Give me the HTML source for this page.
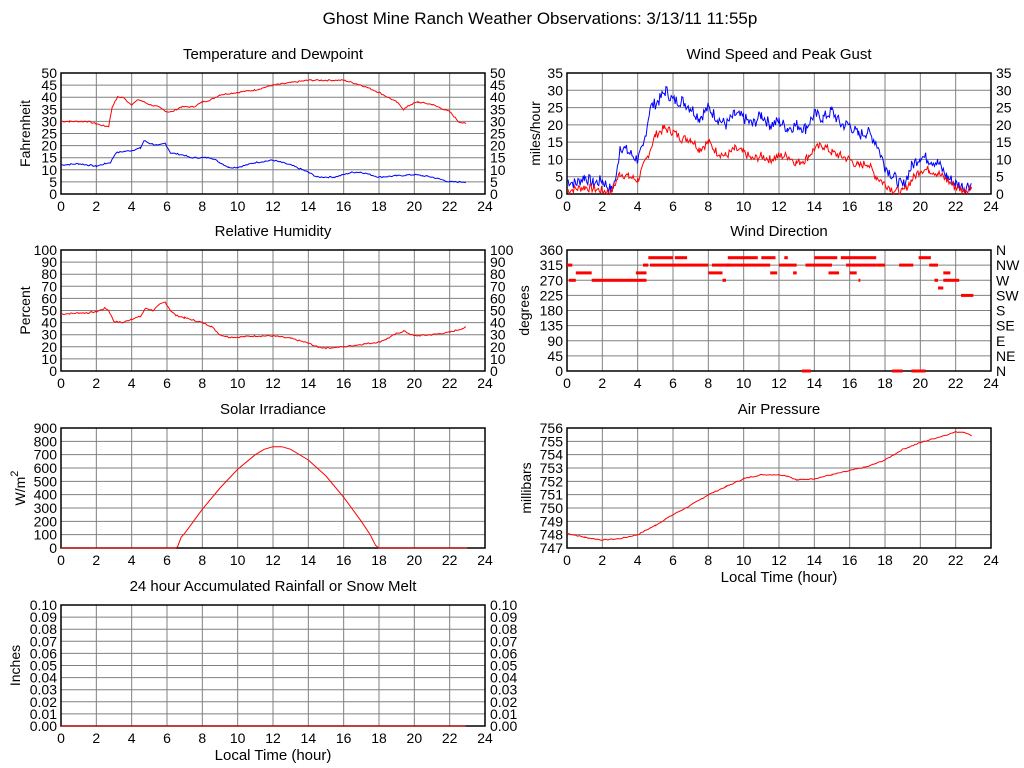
<!DOCTYPE html>
<html><head><meta charset="utf-8"><style>
html,body{margin:0;padding:0;background:#fff;width:1024px;height:768px;overflow:hidden}
svg{display:block}
text{font-family:"Liberation Sans",sans-serif;fill:#000}
</style></head><body>
<svg id="s" width="1024" height="768" xmlns="http://www.w3.org/2000/svg"></svg>
<script>
var S=document.getElementById('s'),o='';
o+='<rect width="1024" height="768" fill="#fff"/>';
o+='<text x="540" y="24" font-size="17" text-anchor="middle">Ghost Mine Ranch Weather Observations: 3/13/11 11:55p</text>';
function plot(p){
 var L=p.x,T=p.y,R=p.x+424,B=p.y+p.h,w=424,h=p.h;
 o+='<text x="'+(L+212)+'" y="'+(T-14)+'" font-size="15" text-anchor="middle">'+p.title+'</text>';
 for(var i=1;i<12;i++){var x=L+w*i/12;o+='<line x1="'+x+'" y1="'+T+'" x2="'+x+'" y2="'+B+'" stroke="#808080"/>';}
 for(var j=1;j<p.n;j++){var y=T+h*j/p.n;o+='<line x1="'+L+'" y1="'+y+'" x2="'+R+'" y2="'+y+'" stroke="#808080"/>';}
 o+='<rect x="'+L+'" y="'+T+'" width="'+w+'" height="'+h+'" fill="none" stroke="#000" stroke-width="1.5"/>';
 for(var i=0;i<=12;i++){o+='<text x="'+(L+w*i/12)+'" y="'+(B+17)+'" font-size="14" text-anchor="middle">'+(2*i)+'</text>';}
 for(var j=0;j<=p.n;j++){var y=B-h*j/p.n+5;var lb=p.lab(j);
  o+='<text x="'+(L-4)+'" y="'+y+'" font-size="14" text-anchor="end">'+lb+'</text>';
  var rl=p.rl?p.rl(j):(p.right?lb:null); if(rl!==null)o+='<text x="'+(R+5)+'" y="'+y+'" font-size="14">'+rl+'</text>';}
 o+='<text transform="translate('+(L-p.yo)+','+(T+h/2)+') rotate(-90)" font-size="14" text-anchor="middle">'+p.yl+'</text>';
 if(p.xl)o+='<text x="'+(L+212)+'" y="'+(B+34)+'" font-size="15" text-anchor="middle">'+p.xl+'</text>';
 var mp=function(hh,v){return [(L+w*hh/24).toFixed(1),(B-h*(v-p.min)/(p.max-p.min)).toFixed(1)];};
 (p.series||[]).forEach(function(s){
  var pts=[];for(var k=0;k<s.d.length;k+=2)pts.push(mp(s.d[k],s.d[k+1]).join(','));
  o+='<polyline points="'+pts.join(' ')+'" fill="none" stroke="'+s.c+'" stroke-width="1"/>';});
 (p.segs||[]).forEach(function(g){var a=mp(g[0],g[2]),b=mp(g[1],g[2]);
  o+='<rect x="'+a[0]+'" y="'+(a[1]-1.5)+'" width="'+(b[0]-a[0])+'" height="3" fill="#f00"/>';});
}
function noisy(d,amp,step){var r=[];var seed=7;function rnd(){seed=(seed*9301+49297)%233280;return seed/233280-0.5;}
 for(var k=0;k<d.length-2;k+=2){var h0=d[k],v0=d[k+1],h1=d[k+2],v1=d[k+3];
  for(var t=h0;t<h1;t+=step){var v=v0+(v1-v0)*(t-h0)/(h1-h0)+rnd()*amp;r.push(t,Math.max(0,v));}}
 r.push(d[d.length-2],d[d.length-1]);return r;}
var dir=['N','NE','E','SE','S','SW','W','NW','N'];
plot({x:61,y:73,h:121,n:10,min:0,max:50,yo:31,title:'Temperature and Dewpoint',yl:'Fahrenheit',right:1,lab:function(j){return j*5},
 series:[{c:'#f00',d:noisy([0,30,0.5,30,1,30,1.5,30,2,29,2.5,28,2.7,28,2.9,36,3.2,40,3.5,40,3.8,38,4,37,4.4,39,4.7,38,5,37,5.5,36,6,34,6.3,34,6.8,36,7.5,36,8,38,8.5,39,9,41,10,42,11,43,12,45,13,46,14,47,15,47,16,47,17,45,18,42,19,38,19.4,35,19.8,37,20.2,38,21,37,22,34,22.5,30,22.9,29],0.6,0.08)},
 {c:'#00f',d:noisy([0,12,1,12.5,1.5,12,2,11.5,2.5,12.5,2.8,13,3.1,17,3.5,17.5,4,18,4.5,19,4.7,22,5,21,5.5,20,5.9,21,6.2,17,7,16,7.3,15,8,15,8.5,15,9,13,9.5,11,10,11,11,13,12,14,12.5,13,13,12,14,9,14.5,7,15.5,7,16.5,9,17,9,18,7,19,7.5,20,8,21,7,22,5,22.9,5],0.6,0.08)}]});
plot({x:567,y:73,h:121,n:7,min:0,max:35,yo:27,title:'Wind Speed and Peak Gust',yl:'miles/hour',right:1,lab:function(j){return j*5},
 series:[{c:'#00f',d:noisy([0,4,0.5,3,1,5,1.5,3,2,4,2.5,1,2.8,5,3,14,3.5,12,4,10,4.3,13,4.7,25,5.2,27,5.6,30,6,27,6.5,27,7,25,7.5,22,8,25,8.5,22,9,20,9.5,23,10,22,10.5,20,11,23,11.5,20,12,21,12.5,19,13,20,13.5,19,14,23,14.5,22,15,24,15.5,20,16,20,16.5,17,17,18,17.5,15,18,8,18.5,5,19,2,19.5,8,20,11,20.5,10,21,9,21.5,5,22,3,22.5,2,22.9,3],3.5,0.06)},
 {c:'#f00',d:noisy([0,1,1,2,2,1,2.5,0.5,3,6,3.5,5,4,4,4.5,10,5,17,5.5,19,6,18,6.5,16,7,16,7.5,13,8,15,8.5,12,9,11,9.5,13,10,12,10.5,10,11,11,11.5,10,12,11,12.5,11,13,9,13.5,10,14,13,14.5,14,15,12,15.5,11,16,10,16.5,8,17,9,17.5,5,18,3,18.5,1,19,0.5,19.5,4,20,7,20.5,7,21,6,21.5,4,22,2,22.5,1,22.9,2],2.5,0.06)}]});
plot({x:61,y:250,h:121,n:10,min:0,max:100,yo:31,title:'Relative Humidity',yl:'Percent',right:1,lab:function(j){return j*10},
 series:[{c:'#f00',d:noisy([0,47,1,48,1.5,48,2,49,2.5,52,2.7,50,3,41,3.5,40,4,43,4.5,45,4.8,52,5.2,50,5.6,55,5.9,57,6.2,50,6.5,46,7,44,7.5,42,8,40,8.5,37,9,30,9.5,28,10,28,11,29,12,29,13,27,14,23,14.5,20,15,19,16,20,17,22,18,24,18.5,27,19,31,19.4,33,20,29,21,30,22,32,22.9,36],1.2,0.08)}]});
plot({x:567,y:250,h:121,n:8,min:0,max:360,yo:38,title:'Wind Direction',yl:'degrees',lab:function(j){return j*45},rl:function(j){return dir[j]},
 segs:[[0,0.3,315],[0.1,0.5,270],[0.5,1.4,292],[1.4,4.5,270],[3.9,4.5,292],[4.3,4.6,315],[4.6,6,337],[4.7,6,315],[6.1,6.8,337],[6,8,315],[8,8.8,292],[8.2,9.2,315],[8.8,9,270],[9.1,10.8,337],[9,11.5,315],[11,11.8,337],[11.5,11.9,292],[12,13,315],[12.3,12.5,337],[12.8,13,292],[13.3,13.8,0],[13.5,15,315],[14,15,337],[15,15.3,337],[14.8,15.4,292],[15.5,17.5,337],[15.8,17.5,315],[16,16.4,292],[16.5,16.6,270],[17.5,18,315],[18.4,19,0],[18.8,19.6,315],[19.5,20.3,0],[19.9,20.6,337],[20.5,21,315],[21,21.3,247],[21.3,22.2,270],[21.3,21.7,292],[20.8,21,270],[22.3,23,225]]});
plot({x:61,y:428,h:120,n:9,min:0,max:900,yo:36,title:'Solar Irradiance',yl:'W/m<tspan dy="-7" font-size="11">2</tspan>',lab:function(j){return j*100},
 series:[{c:'#f00',d:[0,0,6.5,0,6.6,10,6.8,80,7,110,7.5,200,8,290,9,450,10,590,11,700,11.5,740,12,760,12.5,760,13,740,14,660,15,540,16,380,17,200,17.5,100,17.8,20,18,0,23,0]}]});
plot({x:567,y:428,h:120,n:9,min:747,max:756,yo:36,title:'Air Pressure',yl:'millibars',xl:'Local Time (hour)',lab:function(j){return 747+j},
 series:[{c:'#f00',d:noisy([0,748.1,1,747.8,2,747.6,3,747.7,4,748,5,748.7,6,749.5,7,750.2,8,751,9,751.6,10,752.2,11,752.5,12,752.5,12.5,752.4,13,752.1,14,752.2,15,752.5,16,752.8,17,753.1,18,753.6,19,754.4,20,754.9,21,755.3,22,755.7,22.5,755.7,22.9,755.4],0.08,0.1)}]});
plot({x:61,y:605,h:121,n:10,min:0,max:0.1,yo:41,title:'24 hour Accumulated Rainfall or Snow Melt',yl:'Inches',xl:'Local Time (hour)',right:1,lab:function(j){return (j/100).toFixed(2)},
 series:[{c:'#f00',d:[0,0,22.9,0]}]});
S.innerHTML=o;
</script>
</body></html>
